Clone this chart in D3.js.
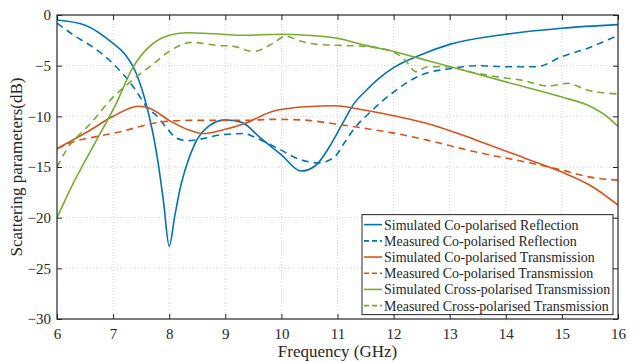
<!DOCTYPE html>
<html>
<head>
<meta charset="utf-8">
<script src="https://cdn.jsdelivr.net/npm/d3@7"></script>
<style>
  body { margin: 0; background: #fff; }
</style>
</head>
<body>
<svg id="chart" width="640" height="362"></svg>
<script>
// values (frequency in GHz, level in dB)
var simReflF = [6, 6.5, 7.0, 7.2, 7.4, 7.55, 7.7, 7.8, 7.9, 8.0, 8.1, 8.2, 8.3, 8.45, 8.7, 9.0, 9.3, 9.6, 10.0, 10.35, 10.6, 10.9, 11.1, 11.3, 11.5, 11.75, 12.0, 12.5, 13.0, 14.0, 15.0, 16];
var simReflDb = [-0.5, -1.0, -2.8, -3.8, -5.6, -8.0, -11.4, -14.5, -18.5, -22.8, -19.8, -17.0, -15.0, -12.8, -11.0, -10.35, -10.6, -12.0, -13.8, -15.4, -14.9, -12.6, -10.6, -8.7, -7.5, -6.2, -5.2, -3.9, -2.9, -1.9, -1.3, -0.95];

var measReflF = [6, 6.3, 6.7, 7.0, 7.35, 7.65, 7.75, 7.93, 8.15, 8.35, 8.6, 8.95, 9.35, 9.5, 9.95, 10.3, 10.5, 10.65, 10.95, 11.1, 11.3, 11.6, 12.0, 12.5, 13.0, 13.5, 14.0, 14.55, 15.0, 15.45, 16];
var measReflDb = [-0.8, -2.0, -3.4, -4.8, -7.0, -9.4, -9.8, -11.0, -12.2, -12.4, -12.2, -11.8, -11.7, -12.0, -13.2, -14.2, -14.5, -14.6, -14.0, -12.8, -11.2, -9.5, -7.6, -5.9, -5.3, -5.0, -5.1, -5.1, -4.1, -3.3, -2.0];

var simCoTxF = [6, 6.55, 7.0, 7.45, 7.65, 8.0, 8.35, 8.6, 8.95, 9.35, 9.85, 10.45, 10.95, 11.5, 12.05, 12.6, 13.45, 14.35, 15.0, 15.5, 16];
var simCoTxDb = [-13.2, -11.5, -10.0, -9.0, -9.2, -10.4, -11.35, -11.7, -11.35, -10.7, -9.5, -9.05, -8.95, -9.4, -10.0, -10.7, -12.3, -14.15, -15.5, -16.8, -18.75];

var measCoTxF = [6, 6.3, 6.7, 7.15, 7.55, 7.95, 8.35, 9.35, 9.85, 10.35, 10.9, 11.5, 12.05, 12.6, 13.45, 14.35, 15.0, 15.5, 16];
var measCoTxDb = [-13.2, -12.5, -12.0, -11.5, -10.9, -10.5, -10.4, -10.4, -10.3, -10.35, -10.7, -11.2, -11.7, -12.35, -13.5, -14.5, -15.3, -16.0, -16.3];

var simXTxF = [6, 6.3, 6.7, 7.05, 7.35, 7.65, 8.0, 8.3, 8.8, 9.3, 10.0, 10.45, 11.0, 11.5, 12.0, 12.6, 13.15, 14.0, 15.0, 15.5, 15.8, 16];
var simXTxDb = [-20, -16.5, -12.4, -8.8, -5.2, -3.1, -2.0, -1.75, -1.85, -2.0, -1.9, -2.0, -2.3, -3.0, -3.6, -4.5, -5.3, -6.6, -8.1, -9.0, -10.0, -11.0];

var measXTxF = [6, 6.17, 6.6, 6.95, 7.35, 7.7, 8.05, 8.4, 8.85, 9.15, 9.5, 9.85, 10.07, 10.35, 10.65, 11.05, 11.5, 11.9, 12.2, 12.4, 12.6, 12.95, 13.35, 13.9, 14.25, 14.75, 15.1, 15.45, 16];
var measXTxDb = [-15.0, -13.3, -10.7, -8.4, -6.4, -4.9, -3.4, -2.7, -3.0, -3.1, -3.6, -2.8, -2.1, -2.6, -2.9, -3.0, -3.1, -3.45, -4.4, -5.6, -5.1, -5.1, -5.6, -6.15, -6.4, -7.0, -6.75, -7.4, -7.8];

var xTicks = [6, 7, 8, 9, 10, 11, 12, 13, 14, 15, 16];
var yTicks = [0, -5, -10, -15, -20, -25, -30];

var seriesNames = [
  "Simulated Co-polarised Reflection",
  "Measured Co-polarised Reflection",
  "Simulated Co-polarised Transmission",
  "Measured Co-polarised Transmission",
  "Simulated Cross-polarised Transmission",
  "Measured Cross-polarised Transmission"
];

var blue = "#0072BD", orange = "#D95319", green = "#77AC30";
var serif = "'Liberation Serif'";

var series = [
  {name: seriesNames[0], f: simReflF, v: simReflDb, color: blue, dashed: false},
  {name: seriesNames[1], f: measReflF, v: measReflDb, color: blue, dashed: true},
  {name: seriesNames[2], f: simCoTxF, v: simCoTxDb, color: orange, dashed: false},
  {name: seriesNames[3], f: measCoTxF, v: measCoTxDb, color: orange, dashed: true},
  {name: seriesNames[4], f: simXTxF, v: simXTxDb, color: green, dashed: false},
  {name: seriesNames[5], f: measXTxF, v: measXTxDb, color: green, dashed: true}
];

var margin = {top: 15, right: 22, bottom: 43, left: 57},
    width = 640 - margin.left - margin.right,
    height = 362 - margin.top - margin.bottom;

var svg = d3.select("#chart")
  .append("g")
  .attr("transform", "translate(" + margin.left + "," + margin.top + ")");

var x = d3.scaleLinear().domain([6, 16]).range([0, width]);
var y = d3.scaleLinear().domain([-30, 0]).range([height, 0]);

// grid
svg.append("g").selectAll("line.gx")
  .data(xTicks.slice(1, -1))
  .enter().append("line")
  .attr("x1", function(d) { return x(d); })
  .attr("x2", function(d) { return x(d); })
  .attr("y1", 0).attr("y2", height)
  .style("stroke", "#d4d4d4").style("stroke-dasharray", "1,2");

svg.append("g").selectAll("line.gy")
  .data(yTicks.slice(1, -1))
  .enter().append("line")
  .attr("x1", 0).attr("x2", width)
  .attr("y1", function(d) { return y(d); })
  .attr("y2", function(d) { return y(d); })
  .style("stroke", "#d4d4d4").style("stroke-dasharray", "1,2");

// curves
var line = d3.line()
  .x(function(d) { return x(d[0]); })
  .y(function(d) { return y(d[1]); })
  .curve(d3.curveMonotoneX);

svg.append("clipPath").attr("id", "plotclip")
  .append("rect").attr("width", width).attr("height", height);

svg.append("g").attr("clip-path", "url(#plotclip)")
  .selectAll("path.curve")
  .data(series)
  .enter().append("path")
  .attr("class", "curve")
  .attr("d", function(s) { return line(d3.zip(s.f, s.v)); })
  .style("fill", "none")
  .style("stroke", function(s) { return s.color; })
  .style("stroke-width", 1.6)
  .style("stroke-dasharray", function(s) { return s.dashed ? "7,5" : null; });

// axes, ticks point inward
var axisColor = "#262626";
var xAxis = svg.append("g")
  .attr("transform", "translate(0," + height + ")")
  .call(d3.axisBottom(x).tickValues(xTicks).tickSizeInner(-5).tickSizeOuter(0).tickPadding(9));
var xTop = svg.append("g")
  .call(d3.axisTop(x).tickValues(xTicks).tickSizeInner(-5).tickSizeOuter(0).tickFormat(""));
var yAxis = svg.append("g")
  .call(d3.axisLeft(y).tickValues(yTicks).tickSizeInner(-5).tickSizeOuter(0).tickPadding(6));
var yRight = svg.append("g")
  .attr("transform", "translate(" + width + ",0)")
  .call(d3.axisRight(y).tickValues(yTicks).tickSizeInner(-5).tickSizeOuter(0).tickFormat(""));

[xAxis, xTop, yAxis, yRight].forEach(function(a) {
  a.select(".domain").remove();
  a.selectAll("line").style("stroke", axisColor);
  a.selectAll("text")
    .style("font-family", serif)
    .style("font-size", "15px")
    .style("fill", axisColor);
});

svg.append("rect")
  .attr("width", width).attr("height", height)
  .style("fill", "none").style("stroke", axisColor).style("stroke-width", 1.2);

// axis titles
svg.append("text")
  .attr("x", width / 2)
  .attr("y", height + 38)
  .attr("text-anchor", "middle")
  .style("font-family", serif)
  .style("font-size", "17px")
  .style("fill", axisColor)
  .text("Frequency (GHz)");

svg.append("text")
  .attr("transform", "translate(" + (-35) + "," + (height / 2) + ") rotate(-90)")
  .attr("text-anchor", "middle")
  .style("font-family", serif)
  .style("font-size", "17px")
  .style("fill", axisColor)
  .text("Scattering parameters(dB)");

// legend
var lg = svg.append("g")
  .attr("transform", "translate(" + (x(16) - 256) + "," + (y(-19.7)) + ")");

lg.append("rect")
  .attr("width", 251).attr("height", 100)
  .style("fill", "#fff").style("stroke", axisColor).style("stroke-width", 1);

var rows = lg.selectAll("g.row")
  .data(series)
  .enter().append("g")
  .attr("transform", function(d, i) { return "translate(0," + (10 + i * 16.2) + ")"; });

rows.append("line")
  .attr("x1", 2).attr("x2", 20)
  .style("stroke", function(s) { return s.color; })
  .style("stroke-width", 1.6)
  .style("stroke-dasharray", function(s) { return s.dashed ? "5,3" : null; });

rows.append("text")
  .attr("x", 22)
  .attr("dy", "0.35em")
  .style("font-family", serif)
  .style("font-size", "14px")
  .style("fill", axisColor)
  .text(function(s) { return s.name; });
</script>
</body>
</html>
